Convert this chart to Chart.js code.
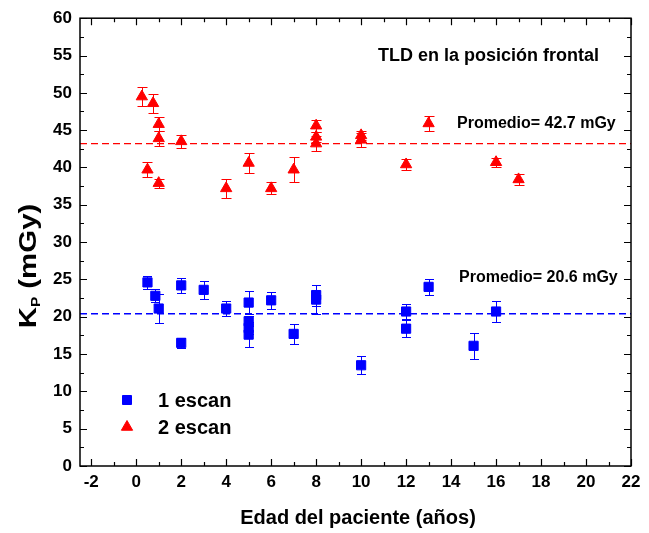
<!DOCTYPE html>
<html>
<head>
<meta charset="utf-8">
<script src="https://cdn.jsdelivr.net/npm/chart.js@4.4.0/dist/chart.umd.min.js"></script>
<style>
  html, body { margin: 0; padding: 0; background: #fff; }
  #wrap { width: 649px; height: 533px; }
</style>
</head>
<body>
<div id="wrap"><canvas id="chart"></canvas></div>
<script>
// axis ticks
const xTicks = [-2, 0, 2, 4, 6, 8, 10, 12, 14, 16, 18, 20, 22];
const yTicks = [0, 5, 10, 15, 20, 25, 30, 35, 40, 45, 50, 55, 60];
const xMin = -2.5, xMax = 22;

// 1 escan (blue squares)
const oneScanX   = [0.5, 0.85, 1, 2, 2, 3, 4, 5, 5, 5, 5, 6, 7, 8, 8, 10, 12, 12, 13, 15, 16];
const oneScanY   = [24.6, 22.8, 21.1, 24.2, 16.5, 23.6, 21.1, 21.9, 19.4, 18.5, 17.6, 22.2, 17.7, 22.9, 22.3, 13.5, 20.7, 18.4, 24.0, 16.1, 20.7];
const oneScanErr = [0.9, 0.85, 2.0, 1.0, 0.7, 1.2, 1.0, 1.6, 0.7, 0.8, 1.7, 1.1, 1.3, 1.4, 1.9, 1.2, 1.0, 1.1, 1.1, 1.7, 1.4];

// 2 escan (red triangles)
const twoScanX   = [0.25, 0.75, 1, 1, 2, 0.5, 1, 4, 5, 6, 7, 8, 8, 8, 10, 10, 12, 13, 16, 17];
const twoScanY   = [49.5, 48.6, 45.8, 43.9, 43.5, 39.7, 37.9, 37.2, 40.6, 37.2, 39.7, 45.6, 44.1, 43.2, 44.3, 43.7, 40.4, 45.9, 40.7, 38.4];
const twoScanErr = [1.3, 1.3, 0.9, 1.0, 0.9, 1.0, 0.6, 1.25, 1.4, 0.8, 1.7, 0.8, 0.7, 1.0, 0.6, 0.9, 0.7, 1.0, 0.6, 0.7];

// average lines
const meanOne = 20.4;
const meanTwo = 43.2;
const meanOneText = 'Promedio= 20.6 mGy';
const meanTwoText = 'Promedio= 42.7 mGy';
const titleText = 'TLD en la posición frontal';
const seriesNames = ['1 escan', '2 escan'];
const xTitle = 'Edad del paciente (años)';

const FONT = "'Liberation Sans', Arial, sans-serif";
const BLUE = '#0000ff';
const RED = '#ff0000';

function pts(xs, ys) {
  return xs.map((x, i) => ({ x: x, y: ys[i] }));
}

function drawMarker(ctx, style, color, x, y) {
  ctx.save();
  ctx.fillStyle = color;
  ctx.strokeStyle = color;
  ctx.lineWidth = 1;
  ctx.beginPath();
  if (style === 'rect') {
    ctx.rect(x - 4.5, y - 4.5, 9, 9);
  } else {
    const r = 6.5;
    ctx.moveTo(x, y - r);
    ctx.lineTo(x + r * 0.866, y + r * 0.5);
    ctx.lineTo(x - r * 0.866, y + r * 0.5);
    ctx.closePath();
  }
  ctx.fill();
  ctx.stroke();
  ctx.restore();
}

const originStyle = {
  id: 'originStyle',
  beforeDatasetsDraw(chart) {
    const ctx = chart.ctx, xs = chart.scales.x, ys = chart.scales.y;
    const sets = [
      [oneScanX, oneScanY, oneScanErr, BLUE, 4.5],
      [twoScanX, twoScanY, twoScanErr, RED, 5]
    ];
    ctx.save();
    ctx.lineWidth = 1;
    sets.forEach(([X, Y, E, col, cap]) => {
      ctx.strokeStyle = col;
      X.forEach((x, i) => {
        const px = Math.round(xs.getPixelForValue(x)) + 0.5;
        const top = Math.round(ys.getPixelForValue(Y[i] + E[i])) + 0.5;
        const bot = Math.round(ys.getPixelForValue(Y[i] - E[i])) + 0.5;
        ctx.beginPath();
        ctx.moveTo(px, top); ctx.lineTo(px, bot);
        ctx.moveTo(px - cap, top); ctx.lineTo(px + cap, top);
        ctx.moveTo(px - cap, bot); ctx.lineTo(px + cap, bot);
        ctx.stroke();
      });
    });
    ctx.restore();
  },
  afterDraw(chart) {
    const ctx = chart.ctx, a = chart.chartArea;
    const xs = chart.scales.x, ys = chart.scales.y;
    ctx.save();
    // frame
    ctx.strokeStyle = '#000';
    ctx.lineWidth = 1.5;
    ctx.strokeRect(a.left, a.top, a.right - a.left, a.bottom - a.top);

    // inward ticks on all four sides
    ctx.lineWidth = 1.2;
    ctx.beginPath();
    const xMinor = xTicks.slice(1).map((v, i) => (v + xTicks[i]) / 2);
    const yMinor = yTicks.slice(1).map((v, i) => (v + yTicks[i]) / 2);
    const xt = (v, len) => {
      const p = Math.round(xs.getPixelForValue(v)) + 0.5;
      ctx.moveTo(p, a.bottom); ctx.lineTo(p, a.bottom - len);
      ctx.moveTo(p, a.top); ctx.lineTo(p, a.top + len);
    };
    const yt = (v, len) => {
      const p = Math.round(ys.getPixelForValue(v)) + 0.5;
      ctx.moveTo(a.left, p); ctx.lineTo(a.left + len, p);
      ctx.moveTo(a.right, p); ctx.lineTo(a.right - len, p);
    };
    xTicks.forEach(v => xt(v, 7));
    xMinor.forEach(v => xt(v, 4));
    yTicks.forEach(v => yt(v, 7));
    yMinor.forEach(v => yt(v, 4));
    ctx.stroke();

    ctx.fillStyle = '#000';
    ctx.textBaseline = 'middle';
    ctx.textAlign = 'left';

    // texts inside the plot
    ctx.font = 'bold 18px ' + FONT;
    ctx.fillText(titleText, 378, 56);
    ctx.font = 'bold 16px ' + FONT;
    ctx.fillText(meanTwoText, 457, 124);
    ctx.fillText(meanOneText, 459, 278);

    // legend
    drawMarker(ctx, 'rect', BLUE, 127, 400);
    drawMarker(ctx, 'tri', RED, 127, 427);
    ctx.font = 'bold 20px ' + FONT;
    ctx.fillText(seriesNames[0], 158, 401);
    ctx.fillText(seriesNames[1], 158, 428);

    // x title
    ctx.textAlign = 'center';
    ctx.font = 'bold 20px ' + FONT;
    ctx.fillText(xTitle, 358, 518);

    // y title with subscript
    ctx.translate(28, 266);
    ctx.rotate(-Math.PI / 2);
    ctx.scale(1.28, 1);
    const big = 'bold 23px ' + FONT, small = 'bold 12px ' + FONT;
    ctx.font = big; const wK = ctx.measureText('K').width;
    const wRest = ctx.measureText(' (mGy)').width;
    ctx.font = small; const wP = ctx.measureText('P').width;
    let x0 = -(wK + wP + wRest) / 2;
    ctx.textAlign = 'left';
    ctx.textBaseline = 'alphabetic';
    ctx.font = big; ctx.fillText('K', x0, 8); x0 += wK;
    ctx.font = small; ctx.fillText('P', x0, 12); x0 += wP;
    ctx.font = big; ctx.fillText(' (mGy)', x0, 8);
    ctx.restore();
  }
};

new Chart(document.getElementById('chart'), {
  type: 'scatter',
  data: {
    datasets: [
      {
        label: seriesNames[0],
        data: pts(oneScanX, oneScanY),
        pointStyle: 'rect',
        pointRadius: 6.5,
        pointBackgroundColor: BLUE,
        pointBorderColor: BLUE,
        pointBorderWidth: 1
      },
      {
        label: seriesNames[1],
        data: pts(twoScanX, twoScanY),
        pointStyle: 'triangle',
        pointRadius: 6.5,
        pointBackgroundColor: RED,
        pointBorderColor: RED,
        pointBorderWidth: 1
      },
      {
        type: 'line',
        data: [{ x: xMin, y: meanTwo }, { x: xMax, y: meanTwo }],
        borderColor: RED,
        borderWidth: 1.3,
        borderDash: [7, 4],
        pointRadius: 0
      },
      {
        type: 'line',
        data: [{ x: xMin, y: meanOne }, { x: xMax, y: meanOne }],
        borderColor: BLUE,
        borderWidth: 1.3,
        borderDash: [7, 4],
        pointRadius: 0
      }
    ]
  },
  options: {
    responsive: true,
    maintainAspectRatio: false,
    animation: false,
    events: [],
    layout: { padding: { left: 0, right: 18, top: 16, bottom: 0 } },
    plugins: { legend: { display: false }, tooltip: { enabled: false } },
    scales: {
      x: {
        type: 'linear',
        min: xMin,
        max: xMax,
        afterBuildTicks: s => { s.ticks = xTicks.map(v => ({ value: v })); },
        afterFit: s => { s.height = 67; },
        grid: { display: false, drawTicks: false },
        border: { display: false },
        ticks: { color: '#000', padding: 6, maxRotation: 0, autoSkip: false,
                 font: { family: FONT, size: 17, weight: 'bold' } }
      },
      y: {
        type: 'linear',
        min: 0,
        max: 60,
        afterBuildTicks: s => { s.ticks = yTicks.map(v => ({ value: v })); },
        afterFit: s => { s.width = 80; },
        grid: { display: false, drawTicks: false },
        border: { display: false },
        ticks: { color: '#000', padding: 8, autoSkip: false,
                 font: { family: FONT, size: 17, weight: 'bold' } }
      }
    }
  },
  plugins: [originStyle]
});
</script>
</body>
</html>
